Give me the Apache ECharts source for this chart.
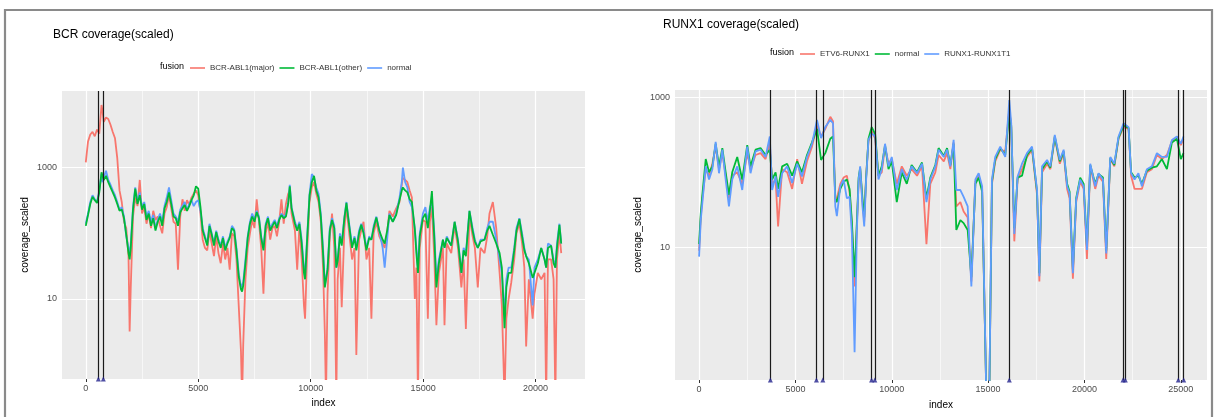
<!DOCTYPE html>
<html>
<head>
<meta charset="utf-8">
<script src="https://cdn.jsdelivr.net/npm/echarts@6/dist/echarts.min.js"></script>
<style>
  html, body { margin: 0; padding: 0; background: #fff; }
  #chart { width: 1218px; height: 417px; }
</style>
</head>
<body>
<div id="chart"></div>
<script>
// ---- BCR panel data ----
var bcrIndex = [
  0, 100, 200, 300, 400, 500, 600, 700, 750, 800,
  900, 1000, 1100, 1200, 1300, 1400, 1500, 1600, 1700, 1800,
  1900, 1950, 2000, 2100, 2200, 2300, 2400, 2500, 2600, 2700,
  2800, 2900, 3000, 3100, 3200, 3300, 3400, 3500, 3600, 3700,
  3800, 3900, 4000, 4100, 4200, 4300, 4400, 4500, 4600, 4700,
  4800, 4900, 5000, 5100, 5200, 5300, 5400, 5500, 5600, 5700,
  5800, 5900, 6000, 6100, 6200, 6300, 6400, 6500, 6600, 6700,
  6800, 6900, 6950, 7000, 7100, 7200, 7300, 7400, 7500, 7600,
  7700, 7800, 7900, 8000, 8100, 8200, 8300, 8400, 8500, 8600,
  8700, 8800, 8900, 9000, 9070, 9150, 9300, 9400, 9500, 9600,
  9700, 9750, 9850, 9950, 10050, 10150, 10250, 10350, 10450, 10550,
  10630, 10680, 10750, 10850, 10950, 11050, 11140, 11200, 11300, 11380,
  11500, 11590, 11700, 11840, 11950, 12030, 12150, 12250, 12350, 12480,
  12600, 12700, 12800, 12920, 13050, 13200, 13290, 13400, 13500, 13650,
  13800, 13950, 14050, 14100, 14200, 14300, 14400, 14500, 14630, 14700,
  14770, 14850, 14990, 15100, 15210, 15300, 15390, 15500, 15590, 15700,
  15880, 15950, 16050, 16250, 16400, 16550, 16700, 16800, 16900, 17060,
  17200, 17300, 17430, 17550, 17730, 17850, 17950, 18100, 18250, 18400,
  18500, 18620, 18700, 18800, 18920, 19050, 19150, 19280, 19400, 19500,
  19580, 19700, 19870, 19950, 20100, 20250, 20400, 20470, 20550, 20690,
  20800, 20880, 20950, 21060, 21140
];
var bcrMajor = [
  1200, 2500, 3200, 3500, 3000, 3800, 3300, 9000, 7000, 5000,
  5800, 5500, 4500, 3500, 2800, 1400, 450, 300, 150, 120,
  45, 3.2, 15, 180, 350, 260, 650, 200, 250, 140,
  200, 120, 220, 160, 180, 130, 100, 200, 250, 380,
  240, 150, 140, 28, 180, 330, 220, 320, 270, 350,
  400, 450, 380, 200, 80, 60, 55, 110, 70, 45,
  90, 50, 35, 70, 40, 60, 28, 100, 90, 40,
  8, 1.6, 0.3, 2, 20, 60, 100, 160, 120, 330,
  150, 60, 12, 100, 150, 80, 120, 130, 90, 150,
  330, 140, 280, 400, 450, 200, 110, 28, 130, 40,
  8, 5, 60, 300, 500, 600, 400, 300, 150, 30,
  3, 0.3, 12, 90, 200, 60, 0.3, 20, 60, 7.5,
  120, 250, 110, 40, 60, 1.4, 80, 110, 150, 40,
  60, 5, 100, 150, 90, 70, 60, 100, 220, 180,
  240, 300, 550, 700, 650, 600, 450, 350, 10, 30,
  0.3, 60, 160, 150, 5, 150, 250, 40, 4, 25,
  60, 4, 70, 50, 130, 60, 15, 40, 3.5, 180,
  90, 60, 15, 60, 50, 90, 200, 300, 120, 25,
  8, 0.3, 5, 10, 18, 40, 100, 140, 70, 30,
  1.9, 20, 5, 12, 25, 20, 25, 0.3, 40, 40,
  20, 0.3, 40, 100, 50
];
var bcrOther = [
  130, 190, 280, 360, 320, 290, 420, 850, 900, 650,
  750, 600, 500, 420, 350, 280, 220, 230, 170, 95,
  50, 40, 60, 230, 480, 280, 380, 230, 280, 160,
  200, 130, 170, 110, 150, 180, 130, 240, 300, 420,
  280, 180, 170, 130, 210, 240, 270, 220, 260, 320,
  380, 520, 480, 250, 110, 85, 65, 130, 95, 65,
  105, 75, 60, 85, 55, 70, 85, 120, 110, 55,
  22, 14, 13, 16, 35, 85, 140, 180, 150, 210,
  170, 85, 55, 130, 170, 110, 130, 150, 120, 160,
  190, 170, 180, 280, 520, 240, 140, 110, 140, 70,
  25, 20, 90, 380, 600, 750, 450, 350, 180, 50,
  15, 14, 28, 110, 160, 120, 30, 38, 90, 65,
  170, 290, 140, 60, 85, 55, 100, 135, 100, 55,
  85, 80, 120, 175, 110, 80, 70, 110, 190, 150,
  190, 320, 450, 500, 450, 420, 330, 300, 115, 50,
  25, 90, 170, 200, 120, 220, 440, 80, 15, 35,
  80, 60, 85, 65, 150, 75, 25, 55, 45, 220,
  110, 75, 60, 75, 80, 110, 130, 95, 70, 50,
  30, 3.6, 15, 25, 25, 55, 110, 165, 90, 55,
  45, 35, 21, 25, 35, 60, 40, 30, 60, 65,
  35, 30, 60, 135, 70
];
var bcrNormal = [
  140, 200, 300, 380, 330, 300, 450, 800, 600, 700,
  900, 650, 550, 450, 380, 300, 230, 250, 180, 90,
  60, 45, 70, 250, 500, 300, 420, 250, 300, 180,
  220, 150, 190, 120, 160, 200, 150, 260, 350, 500,
  320, 200, 180, 150, 230, 260, 300, 230, 280, 320,
  260, 300, 320, 220, 120, 90, 70, 140, 100, 70,
  110, 80, 65, 90, 60, 75, 90, 130, 115, 60,
  25, 15, 14, 18, 40, 90, 150, 200, 160, 220,
  180, 90, 60, 140, 180, 120, 140, 160, 130, 170,
  200, 180, 190, 300, 550, 250, 150, 120, 150, 80,
  30, 22, 100, 400, 800, 700, 500, 400, 200, 60,
  16, 15, 30, 120, 170, 130, 30, 40, 100, 70,
  180, 300, 150, 65, 90, 60, 110, 140, 110, 60,
  90, 80, 130, 180, 110, 60, 30, 80, 200, 150,
  200, 350, 600, 1000, 600, 500, 300, 250, 120, 60,
  30, 100, 200, 250, 150, 250, 300, 100, 20, 40,
  80, 60, 90, 65, 150, 80, 25, 60, 50, 220,
  120, 80, 60, 80, 80, 120, 150, 150, 80, 40,
  25, 6, 20, 30, 30, 60, 120, 170, 100, 60,
  45, 40, 8, 30, 40, 60, 40, 30, 70, 65,
  40, 30, 70, 140, 70
];
var bcrBreaks = [560, 780];

// ---- RUNX1 panel data ----
var runxIndex = [
  0, 86, 170, 345, 517, 690, 860, 1034, 1207, 1380,
  1550, 1720, 1980, 2240, 2500, 2670, 2930, 3190, 3450, 3670,
  3790, 3970, 4100, 4310, 4570, 4830, 5090, 5340, 5600, 5860,
  6120, 6330, 6550, 6810, 6950, 7070, 7150, 7330, 7500, 7670,
  7810, 7930, 8070, 8190, 8280, 8360, 8480, 8570, 8670, 8790,
  8960, 9140, 9310, 9480, 9650, 9830, 10000, 10260, 10520, 10780,
  11030, 11310, 11570, 11800, 12000, 12260, 12430, 12700, 12870, 13040,
  13210, 13350, 13560, 13730, 13940, 14130, 14340, 14510, 14690, 14910,
  14980, 15060, 15200, 15370, 15630, 15890, 16100, 16200, 16360, 16530,
  16760, 17020, 17280, 17540, 17660, 17800, 18060, 18230, 18460, 18720,
  18920, 19100, 19230, 19400, 19570, 19780, 19960, 20130, 20300, 20560,
  20730, 20960, 21130, 21340, 21550, 21770, 22030, 22290, 22420, 22600,
  22800, 22980, 23240, 23500, 23760, 24020, 24280, 24540, 24800, 25000,
  25140
];
var runxEtv6 = [
  9, 25, 45, 110, 90, 130, 220, 110, 180, 90,
  45, 90, 100, 70, 180, 110, 170, 180, 150, 250,
  70, 80, 19, 110, 100, 60, 150, 70, 140, 220,
  420, 300, 380, 550, 480, 40, 45, 70, 85, 90,
  55, 20, 3, 20, 75, 110, 40, 22, 90, 260,
  350, 280, 90, 100, 220, 130, 150, 70, 120, 90,
  110, 90, 120, 11, 70, 100, 170, 140, 180, 110,
  250, 35, 40, 30, 25, 3.5, 75, 90, 60, 0.1,
  0.1, 0.1, 70, 140, 200, 190, 700, 400, 12, 80,
  110, 160, 200, 50, 3.5, 100, 130, 110, 290, 130,
  180, 60, 45, 3.8, 40, 75, 60, 7, 120, 60,
  90, 75, 7, 150, 120, 280, 400, 380, 90, 60,
  60, 60, 100, 110, 170, 150, 170, 260, 290, 230,
  280
];
var runxNormal = [
  11, 28, 50, 150, 100, 120, 240, 120, 210, 100,
  50, 100, 160, 80, 230, 120, 200, 210, 170, 200,
  80, 100, 60, 120, 130, 90, 140, 100, 170, 250,
  380, 146, 180, 280, 300, 45, 40, 60, 75, 80,
  60, 22, 4, 22, 85, 115, 45, 25, 85, 280,
  400, 320, 90, 120, 230, 110, 140, 40, 100, 70,
  125, 100, 135, 45, 85, 125, 210, 165, 210, 125,
  240, 17, 23, 21, 17, 4, 70, 85, 55, 0.1,
  0.1, 0.1, 75, 150, 210, 170, 650, 420, 18, 85,
  90, 170, 210, 55, 4.5, 110, 140, 115, 300, 140,
  190, 70, 55, 5, 45, 85, 70, 10, 125, 70,
  95, 85, 9, 155, 125, 290, 420, 390, 100, 85,
  90, 70, 105, 115, 120, 150, 110, 250, 280, 150,
  180
];
var runxRunx1t1 = [
  7.5, 23, 39, 120, 80, 110, 255, 97, 200, 80,
  35, 80, 120, 58, 220, 97, 190, 200, 160, 300,
  58, 88, 47, 97, 120, 72, 130, 88, 160, 240,
  500, 285, 400, 500, 450, 35, 26, 65, 80, 45,
  47, 15, 0.4, 17, 80, 120, 35, 19, 80, 270,
  330, 300, 80, 110, 240, 120, 160, 58, 110, 80,
  120, 97, 130, 40, 80, 120, 200, 160, 200, 120,
  270, 58, 58, 47, 35, 3, 80, 97, 65, 0.1,
  0.1, 0.1, 80, 160, 220, 160, 920, 450, 15, 88,
  130, 180, 220, 58, 4.1, 120, 146, 120, 315, 146,
  200, 65, 52, 4.5, 43, 80, 65, 9.2, 130, 65,
  97, 80, 8.3, 160, 130, 300, 450, 400, 97, 80,
  97, 65, 110, 120, 180, 160, 160, 270, 300, 240,
  300
];
var runxBreaks = [3700, 6090, 6420, 8950, 9120, 16100, 22000, 22120, 24870, 25150];

// ---- axis ticks ----
var bcrXTicks = [0, 5000, 10000, 15000, 20000];
var runxXTicks = [0, 5000, 10000, 15000, 20000, 25000];
var bcrXMinor = [2500, 7500, 12500, 17500];
var runxXMinor = [2500, 7500, 12500, 17500, 22500];
var yTicks = [10, 1000];

var BCR_X = [-1057, 22197], BCR_Y = [0.605, 14700];
var RUNX_X = [-1250, 26360], RUNX_Y = [0.17, 1250];

var RED = '#F8766D', GREEN = '#00BA38', BLUE = '#619CFF';
var FONT = 'Liberation Sans, Arial, sans-serif';

function zip(xs, ys) {
  return xs.map(function (x, i) { return [x, ys[i]]; });
}

function xAxisFor(gi, ext, ticks, gap) {
  return {
    type: 'value', gridIndex: gi, min: ext[0], max: ext[1],
    axisLine: { show: false },
    axisTick: { show: true, length: 3, customValues: ticks, lineStyle: { color: '#333', width: 1 } },
    axisLabel: { customValues: ticks, fontSize: 9, color: '#4d4d4d', margin: 5, fontFamily: FONT,
      formatter: function (v) { return String(Math.round(v)); } },
    splitLine: { show: true, lineStyle: { color: '#fff', width: 1.2 } },
    name: 'index', nameLocation: 'middle', nameGap: gap,
    nameTextStyle: { fontSize: 10, color: '#000', fontFamily: FONT }
  };
}

function yAxisFor(gi, ext) {
  return {
    type: 'log', logBase: 10, gridIndex: gi, min: ext[0], max: ext[1],
    axisLine: { show: false },
    axisTick: { show: true, length: 3, customValues: yTicks, lineStyle: { color: '#333', width: 1 } },
    axisLabel: { customValues: yTicks, fontSize: 9, color: '#4d4d4d', margin: 5, fontFamily: FONT,
      formatter: function (v) { return String(Math.round(v)); } },
    splitLine: { show: true, lineStyle: { color: '#fff', width: 0.6 } },
    name: 'coverage_scaled', nameLocation: 'middle', nameGap: 32,
    nameTextStyle: { fontSize: 10, color: '#000', fontFamily: FONT }
  };
}

// white grid lines ggplot style: major y at 10/1000, minor x between breaks
function gridHelper(gi, minorX) {
  var lines = yTicks.map(function (v) {
    return { yAxis: v, lineStyle: { color: '#fff', width: 1.2, type: 'solid' } };
  }).concat(minorX.map(function (v) {
    return { xAxis: v, lineStyle: { color: '#fff', width: 0.6, type: 'solid' } };
  }));
  return {
    type: 'line', xAxisIndex: gi, yAxisIndex: gi, data: [], z: 1, silent: true,
    markLine: { silent: true, symbol: 'none', z: 1, animation: false, label: { show: false }, data: lines }
  };
}

function covSeries(gi, name, xs, ys, color, z) {
  return {
    type: 'line', name: name, xAxisIndex: gi, yAxisIndex: gi, z: z,
    data: zip(xs, ys), symbol: 'none', showSymbol: false,
    lineStyle: { color: color, width: 1.8 }, itemStyle: { color: color }
  };
}

function breakSeries(gi, breaks, ymin) {
  return {
    type: 'scatter', xAxisIndex: gi, yAxisIndex: gi, z: 8, silent: true,
    data: breaks.map(function (x) { return [x, ymin]; }),
    symbol: 'triangle', symbolSize: 5, itemStyle: { color: '#22228c' },
    markLine: {
      silent: true, symbol: 'none', z: 8, animation: false, label: { show: false },
      lineStyle: { color: '#1a1a1a', width: 1.2, type: 'solid' },
      data: breaks.map(function (x) { return { xAxis: x }; })
    }
  };
}

function legendItem(name, color) {
  return { name: name, icon: 'rect', itemStyle: { color: color } };
}

function legendFor(left, top, items) {
  return {
    left: left, top: top, padding: 0, itemWidth: 15, itemHeight: 1.6, itemGap: 5, selectedMode: false,
    textStyle: { fontSize: 8, color: '#333', fontFamily: FONT, lineHeight: 10 },
    data: items
  };
}

var chart = echarts.init(document.getElementById('chart'));

var option = {
  animation: false,
  backgroundColor: '#fff',
  title: [
    { text: 'BCR coverage(scaled)', left: 53, top: 29, padding: 0,
      textStyle: { fontSize: 12, fontWeight: 'normal', color: '#000', fontFamily: FONT } },
    { text: 'RUNX1 coverage(scaled)', left: 663, top: 19, padding: 0,
      textStyle: { fontSize: 12, fontWeight: 'normal', color: '#000', fontFamily: FONT } }
  ],
  legend: [
    legendFor(190, 63, [legendItem('BCR-ABL1(major)', RED), legendItem('BCR-ABL1(other)', GREEN), legendItem('normal', BLUE)]),
    legendFor(800, 49, [legendItem('ETV6-RUNX1', RED), legendItem('normal', GREEN), legendItem('RUNX1-RUNX1T1', BLUE)])
  ],
  graphic: [
    { type: 'text', left: 160, top: 62, style: { text: 'fusion', fontSize: 9, fill: '#000', fontFamily: FONT } },
    { type: 'text', left: 770, top: 48, style: { text: 'fusion', fontSize: 9, fill: '#000', fontFamily: FONT } },
    { type: 'rect', shape: { x: 5, y: 10, width: 1207, height: 440 },
      style: { fill: 'none', stroke: '#8a8a8a', lineWidth: 2.2 }, z: 100 }
  ],
  grid: [
    { left: 62, top: 91, width: 523, height: 288, show: true, backgroundColor: '#EBEBEB', borderWidth: 0 },
    { left: 675, top: 90, width: 532, height: 290, show: true, backgroundColor: '#EBEBEB', borderWidth: 0 }
  ],
  xAxis: [xAxisFor(0, BCR_X, bcrXTicks, 18), xAxisFor(1, RUNX_X, runxXTicks, 20)],
  yAxis: [yAxisFor(0, BCR_Y), yAxisFor(1, RUNX_Y)],
  series: [
    gridHelper(0, bcrXMinor),
    covSeries(0, 'BCR-ABL1(major)', bcrIndex, bcrMajor, RED, 3),
    covSeries(0, 'normal', bcrIndex, bcrNormal, BLUE, 4),
    covSeries(0, 'BCR-ABL1(other)', bcrIndex, bcrOther, GREEN, 5),
    breakSeries(0, bcrBreaks, BCR_Y[0]),

    gridHelper(1, runxXMinor),
    covSeries(1, 'ETV6-RUNX1', runxIndex, runxEtv6, RED, 3),
    covSeries(1, 'normal', runxIndex, runxNormal, GREEN, 4),
    covSeries(1, 'RUNX1-RUNX1T1', runxIndex, runxRunx1t1, BLUE, 5),
    breakSeries(1, runxBreaks, RUNX_Y[0])
  ]
};

chart.setOption(option);
</script>
</body>
</html>
